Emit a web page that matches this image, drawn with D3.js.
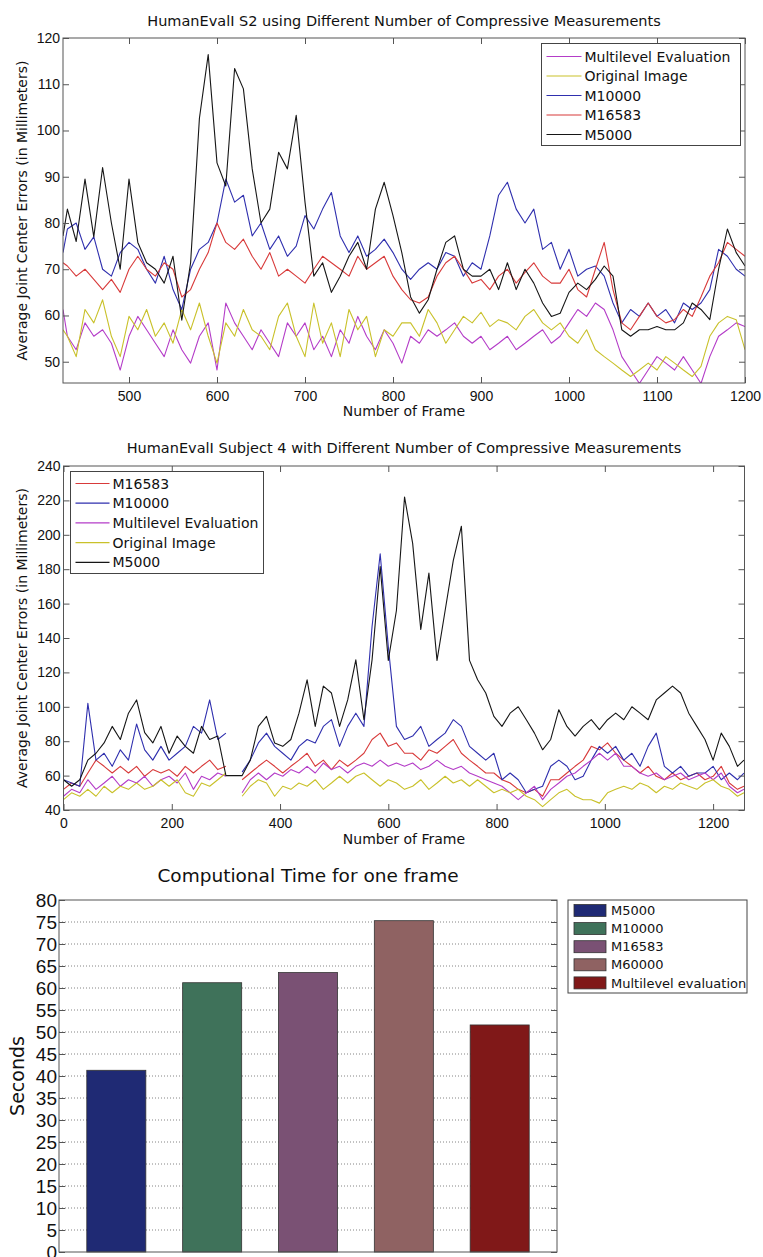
<!DOCTYPE html>
<html>
<head>
<meta charset="utf-8">
<script src="https://cdn.jsdelivr.net/npm/d3@7"></script>
<style>
    body { margin: 0; background: #fff; }
    svg { display: block; font-family: "DejaVu Sans", "Liberation Sans", sans-serif; }
</style>
</head>
<body>
<div id="figure"></div>
<script>
// ---- Panel 1: HumanEvaI S2, sampled every 10 frames ----
const s2Frames = [425].concat(d3.range(430, 1201, 10));
const s2Multilevel = [
    61.3, 55.5, 52.6, 58.4, 55.5, 56.9, 54, 48.2, 55.5, 59.8,
    56.9, 54, 51.1, 56.9, 52.6, 49.7, 55.5, 58.4, 48.2, 62.7,
    58.4, 55.5, 52.6, 56.9, 54, 51.1, 58.4, 55.5, 58.4, 52.6,
    55.5, 51.1, 56.9, 54, 59.8, 55.5, 52.6, 56.9, 54, 49.7,
    55.5, 54, 56.9, 55.5, 56.9, 58.4, 55.5, 54, 55.5, 52.6,
    54, 55.5, 52.6, 54, 55.5, 56.9, 54, 55.5, 58.4, 61.3,
    59.8, 62.7, 61.3, 56.9, 51.1, 48.2, 45.3, 48.2, 51.1, 49.7,
    48.2, 51.1, 48.2, 45.3, 51.1, 55.5, 56.9, 58.4, 57.6
];
const s2Original = [
    56.9, 55.5, 51.1, 61.3, 58.4, 63.4, 55.5, 51.1, 59.8, 56.9,
    61.3, 55.5, 58.4, 54, 61.3, 56.9, 62.7, 55.5, 49.7, 58.4,
    55.5, 61.3, 56.9, 55.5, 52.6, 59.8, 62.7, 55.5, 51.1, 62.7,
    54, 58.4, 51.1, 61.3, 56.9, 59.8, 51.1, 56.9, 55.5, 58.4,
    58.4, 55.5, 61.3, 58.4, 54, 56.9, 59.8, 58.4, 60.7, 57.6,
    59.1, 58.4, 56.9, 59.8, 61.3, 58.4, 56.9, 58.4, 55.5, 54,
    56.9, 52.6, 51.1, 49.7, 48.2, 46.8, 48.2, 49.7, 48.2, 51.1,
    49.7, 48.2, 46.8, 49, 55.5, 58.4, 59.8, 59.1, 52.6
];
const s2M10000 = [
    73.6, 78.7, 80, 74.3, 77, 70, 68.5, 73.6, 75.8, 74.3,
    70, 67, 72.8, 65.6, 61.3, 70, 74.3, 75.8, 80, 89.5,
    84.5, 86, 77.2, 80, 74.3, 77.2, 72.8, 75, 81.6, 78.7,
    83, 86.6, 77.2, 73.6, 77.2, 72.8, 74.3, 76.5, 73.6, 70,
    67.8, 70, 71.4, 70, 73.6, 72.8, 68.5, 71.4, 70, 77.2,
    86, 88.8, 83, 80, 83, 74.3, 75.8, 70, 74.3, 68.5,
    70, 70.7, 68.5, 62.7, 58.4, 61.3, 59.8, 62.7, 59.8, 61.3,
    58.4, 62.7, 61.3, 62.7, 65.6, 74.3, 72.8, 70, 68.5
];
const s2M16583 = [
    71.4, 70.7, 68.5, 70, 67.8, 65.6, 67.8, 65, 70, 72.8,
    70, 68.5, 71.4, 70, 64, 65.6, 70, 73.6, 80, 75.8,
    74.3, 76.5, 72.8, 70, 73.6, 68.5, 70, 68.5, 67, 70,
    72.8, 71.4, 70, 68.5, 72.8, 70, 71.4, 72.8, 68.5, 65.6,
    63.4, 62.7, 64, 68.5, 71.4, 72.8, 70, 67, 67.8, 65.6,
    68.5, 70, 67, 69.3, 71.4, 68.5, 67, 67, 70, 65.6,
    64, 70, 75.8, 65.6, 58.4, 56.9, 59.8, 62.7, 59.8, 58.4,
    59.1, 61.3, 59.8, 64, 68.5, 71.4, 75.8, 74.3, 72.8
];
const s2M5000 = [
    77.2, 83, 76, 89.5, 77, 92, 80, 70, 89.5, 75.8,
    71.4, 70, 67, 72.8, 59, 71.4, 102.6, 116.4, 93, 88,
    113.4, 109, 91.7, 80, 83, 95.3, 91.7, 103.3, 84.5, 68.5,
    71.4, 65, 68.5, 72.8, 75.8, 70, 83, 88.8, 81.6, 73.6,
    64, 60.5, 63.4, 70, 75.8, 77.2, 70, 68.5, 68.5, 70,
    65.6, 71.4, 65.6, 70, 67, 62.7, 59.8, 60.5, 65, 67,
    65.6, 67.8, 70.7, 68.5, 56.9, 55.5, 56.9, 56.9, 57.6, 56.9,
    56.9, 58.4, 62.7, 61.3, 59.1, 70, 78.7, 73.6, 70.7
];
const s2XTicks = [500, 600, 700, 800, 900, 1000, 1100, 1200];
const s2YTicks = [50, 60, 70, 80, 90, 100, 110, 120];

// ---- Panel 2: HumanEvaI Subject 4, sampled every 15 frames (null = no data) ----
const s4Frames = d3.range(0, 1246, 15).concat([1257]);
const s4M16583 = [
    52, 55.7, 53.8, 61.5, 69, 65.4, 61.5, 65.4, 61.5, 65.4,
    59.6, 63.5, 61.5, 63.5, 59.6, 65.4, 61.5, 65.4, 69, 63.5,
    65.4, null, 57.6, 61.5, 65.4, 69, 65.4, 61.5, 65.4, 69,
    73, 65.4, 69, 63.5, 69, 65.4, 69, 73, 81, 84.7,
    77, 79, 73, 73, 69, 75, 73, 77, 81, 73,
    69, 65.4, 61.5, 61.5, 57.6, 55.7, 52, 50, 52, 48,
    57.6, 57.6, 61.5, 65.4, 69, 77, 75, 79, 73, 69,
    65.4, 61.5, 65.4, 59.6, 57.6, 61.5, 57.6, 59.6, 61.5, 57.6,
    59.6, 65.4, 55.7, 52, 53.8
];
const s4M10000 = [
    57.6, 55.7, 53.8, 102, 69, 73, 65.4, 75, 69, 90,
    75, 69, 77, 69, 73, 77, 88.6, 84.7, 104, 81,
    84.7, null, 62, 69, 79, 84.7, 77, 73, 69, 77,
    81, 79, 88.6, 92.5, 77, 88.6, 96.3, 88.6, 146.7, 189,
    135, 88.6, 81, 83, 88.6, 77, 81, 84.7, 92.5, 88.6,
    77, 73, 69, 73, 57.6, 61.5, 57.6, 50, 52, 53.8,
    65.4, 69, 65.4, 57.6, 59.6, 69, 77, 73, 77, 69,
    73, 65.4, 77, 84.7, 65.4, 61.5, 65.4, 59.6, 61.5, 61.5,
    65.4, 57.6, 61.5, 57.6, 61.5
];
const s4Multilevel = [
    48, 52, 50, 57.6, 52, 55.7, 59.6, 53.8, 57.6, 55.7,
    59.6, 53.8, 57.6, 59.6, 55.7, 61.5, 52, 59.6, 57.6, 61.5,
    59.6, null, 50, 57.6, 61.5, 57.6, 61.5, 59.6, 63.5, 61.5,
    65.4, 61.5, 67.3, 63.5, 65.4, 61.5, 65.4, 67.3, 65.4, 69,
    65.4, 67.3, 65.4, 67.3, 63.5, 65.4, 69, 65.4, 63.5, 65.4,
    61.5, 59.6, 57.6, 55.7, 53.8, 50, 46, 50, 53.8, 46,
    52, 55.7, 59.6, 61.5, 65.4, 69, 73, 69, 73, 65.4,
    65.4, 61.5, 59.6, 61.5, 57.6, 59.6, 61.5, 57.6, 59.6, 61.5,
    57.6, 61.5, 53.8, 50, 52
];
const s4Original = [
    46, 50, 48, 52, 48, 53.8, 50, 53.8, 52, 55.7,
    52, 53.8, 57.6, 53.8, 57.6, 50, 48, 55.7, 53.8, 57.6,
    61.5, null, 48, 53.8, 57.6, 55.7, 48, 53.8, 52, 55.7,
    53.8, 57.6, 52, 55.7, 59.6, 55.7, 59.6, 61.5, 57.6, 53.8,
    57.6, 55.7, 52, 53.8, 57.6, 52, 55.7, 59.6, 55.7, 57.6,
    53.8, 57.6, 53.8, 50, 52, 50, 52, 48, 46, 42,
    46, 50, 52, 48, 46, 46, 44, 50, 52, 53.8,
    52, 55.7, 53.8, 50, 53.8, 52, 55.7, 53.8, 52, 55.7,
    57.6, 53.8, 52, 48, 50
];
const s4M5000 = [
    57.6, 53.8, 57.6, 69, 73, 79, 88.6, 81, 96.3, 104,
    85, 79, 88.6, 73, 83, 77, 73, 88.6, 81, 83,
    60, 60, 60, 69, 88.6, 94.4, 79, 77, 81, 96.3,
    115.7, 88.6, 112, 108, 88.6, 104, 127.3, 92.5, 127.3, 181.5,
    127, 156, 222, 195, 145, 177.7, 127, 156, 185, 205,
    127, 115.7, 108, 94.4, 88.6, 96.3, 100, 92.5, 84.7, 75,
    81, 98.3, 88.6, 83, 88.6, 92.5, 86.7, 92.5, 96.3, 92.5,
    100, 96.3, 92.5, 104, 108, 112, 108, 96.3, 88.6, 81,
    69, 84.7, 77, 65.4, 69
];
const s4XTicks = [0, 200, 400, 600, 800, 1000, 1200];
const s4YTicks = [40, 60, 80, 100, 120, 140, 160, 180, 200, 220, 240];

// ---- Panel 3: computational time per frame ----
const barCategories = ["M5000", "M10000", "M16583", "M60000", "Multilevel evaluation"];
const barSeconds = [41.3, 61.2, 63.5, 75.3, 51.6];
const barYTicks = [0, 5, 10, 15, 20, 25, 30, 35, 40, 45, 50, 55, 60, 65, 70, 75, 80];
const barColors = ["#1f2a74", "#3f725a", "#7a5174", "#8f6262", "#801818"];

const lineColors = {
    multilevel: "#b43cc8",
    original: "#c9c12a",
    m10000: "#2f2fae",
    m16583: "#d83a3a",
    m5000: "#161616"
};

/**
 * Creates the svg that holds the three panels.
 * @returns {Object} d3 selection of the svg.
 */
function initializeSVG() {
    return d3.select("#figure")
        .append("svg")
        .attr("width", 763)
        .attr("height", 1257);
}

/**
 * Draws the box, the inward ticks on all four sides and the tick labels.
 */
function drawBoxAxes(svg, x, y, box, xTicks, yTicks, font) {
    const axisColor = "#555";
    const plain = d3.format("d");
    if (xTicks) {
        svg.append("g")
            .attr("transform", `translate(0,${box.bottom})`)
            .call(d3.axisBottom(x).tickValues(xTicks).tickFormat(plain)
                .tickSizeInner(-6).tickSizeOuter(0).tickPadding(font.xPad))
            .call(g => g.select(".domain").remove());
        svg.append("g")
            .attr("transform", `translate(0,${box.top})`)
            .call(d3.axisTop(x).tickValues(xTicks).tickSizeInner(-6).tickSizeOuter(0).tickFormat(""))
            .call(g => g.select(".domain").remove());
    }
    svg.append("g")
        .attr("transform", `translate(${box.left},0)`)
        .call(d3.axisLeft(y).tickValues(yTicks).tickFormat(plain)
            .tickSizeInner(-6).tickSizeOuter(0).tickPadding(font.yPad))
        .call(g => g.select(".domain").remove());
    svg.append("g")
        .attr("transform", `translate(${box.right},0)`)
        .call(d3.axisRight(y).tickValues(yTicks).tickSizeInner(-6).tickSizeOuter(0).tickFormat(""))
        .call(g => g.select(".domain").remove());
    svg.selectAll(".tick line").attr("stroke", axisColor);
    svg.selectAll(".tick text")
        .attr("font-family", null)
        .attr("font-size", font.size)
        .attr("fill", "#111");
    svg.append("rect")
        .attr("x", box.left)
        .attr("y", box.top)
        .attr("width", box.right - box.left)
        .attr("height", box.bottom - box.top)
        .attr("fill", "none")
        .attr("stroke", axisColor)
        .attr("stroke-width", 1);
}

/**
 * Draws a line panel: series, axes, labels and legend.
 * @param {Object} svg - root svg.
 * @param {Object} panel - layout and data of the panel.
 */
function drawLinePanel(svg, panel) {
    const g = svg.append("g");
    const box = panel.box;
    const x = d3.scaleLinear().domain(panel.xDomain).range([box.left, box.right]);
    const y = d3.scaleLinear().domain(panel.yDomain).range([box.bottom, box.top]);

    g.append("clipPath")
        .attr("id", panel.id)
        .append("rect")
        .attr("x", box.left)
        .attr("y", box.top)
        .attr("width", box.right - box.left)
        .attr("height", box.bottom - box.top);

    const line = d3.line()
        .defined(d => d[1] != null)
        .x(d => x(d[0]))
        .y(d => y(d[1]));

    panel.series.forEach(s => {
        g.append("path")
            .datum(panel.frames.map((f, i) => [f, s.values[i]]))
            .attr("clip-path", `url(#${panel.id})`)
            .attr("fill", "none")
            .attr("stroke", s.color)
            .attr("stroke-width", 1.1)
            .attr("stroke-linejoin", "round")
            .attr("d", line);
    });

    drawBoxAxes(g, x, y, box, panel.xTicks, panel.yTicks, { size: 14, xPad: 8, yPad: 3 });

    g.append("text")
        .attr("x", (box.left + box.right) / 2)
        .attr("y", panel.titleY)
        .attr("text-anchor", "middle")
        .attr("font-size", 14.5)
        .attr("fill", "#111")
        .text(panel.title);
    g.append("text")
        .attr("x", (box.left + box.right) / 2)
        .attr("y", panel.xLabelY)
        .attr("text-anchor", "middle")
        .attr("font-size", 14)
        .attr("fill", "#111")
        .text("Number of Frame");
    g.append("text")
        .attr("transform", `translate(27,${(box.top + box.bottom) / 2}) rotate(-90)`)
        .attr("text-anchor", "middle")
        .attr("font-size", 14)
        .attr("fill", "#111")
        .text("Average Joint Center Errors (in Millimeters)");

    const lg = panel.legend;
    const legend = g.append("g")
        .attr("transform", `translate(${lg.x},${lg.y})`);
    legend.append("rect")
        .attr("width", lg.w)
        .attr("height", lg.h)
        .attr("fill", "#fff")
        .attr("stroke", "#444");
    const rows = legend.selectAll("g.row")
        .data(panel.series)
        .enter().append("g")
        .attr("transform", (d, i) => `translate(0,${lg.first + i * lg.step})`);
    rows.append("line")
        .attr("x1", lg.lineX[0])
        .attr("x2", lg.lineX[1])
        .attr("stroke", d => d.color)
        .attr("stroke-width", 1.2);
    rows.append("text")
        .attr("x", lg.textX)
        .attr("dy", "0.36em")
        .attr("font-size", 14)
        .attr("fill", "#111")
        .text(d => d.name);
}

/**
 * Draws the bar panel with dotted grid and legend.
 */
function drawBarPanel(svg) {
    const g = svg.append("g");
    const box = { left: 59, right: 557, top: 900, bottom: 1252 };
    const x = d3.scaleBand()
        .domain(barCategories)
        .range([box.left, box.right])
        .paddingInner(0.384)
        .paddingOuter(0.29);
    const y = d3.scaleLinear().domain([0, 80]).range([box.bottom, box.top]);

    g.append("g")
        .selectAll("line")
        .data(barYTicks.filter(t => t > 0 && t < 80))
        .enter().append("line")
        .attr("x1", box.left)
        .attr("x2", box.right)
        .attr("y1", d => y(d))
        .attr("y2", d => y(d))
        .attr("stroke", "#666")
        .attr("stroke-width", 0.8)
        .attr("stroke-dasharray", "1,2");

    g.append("g")
        .selectAll("rect")
        .data(barCategories)
        .enter().append("rect")
        .attr("x", d => x(d))
        .attr("width", x.bandwidth())
        .attr("y", (d, i) => y(barSeconds[i]))
        .attr("height", (d, i) => y(0) - y(barSeconds[i]))
        .attr("fill", (d, i) => barColors[i])
        .attr("stroke", "#333")
        .attr("stroke-width", 0.8);

    drawBoxAxes(g, null, y, box, null, barYTicks, { size: 19, xPad: 4, yPad: 2 });

    g.append("text")
        .attr("x", (box.left + box.right) / 2)
        .attr("y", 882)
        .attr("text-anchor", "middle")
        .attr("font-size", 18.5)
        .attr("fill", "#111")
        .text("Computional Time for one frame");
    g.append("text")
        .attr("transform", `translate(24,${(box.top + box.bottom) / 2}) rotate(-90)`)
        .attr("text-anchor", "middle")
        .attr("font-size", 19)
        .attr("fill", "#111")
        .text("Seconds");

    const legend = g.append("g").attr("transform", "translate(568,900)");
    legend.append("rect")
        .attr("width", 179)
        .attr("height", 93)
        .attr("fill", "#fff")
        .attr("stroke", "#444");
    const rows = legend.selectAll("g.row")
        .data(barCategories)
        .enter().append("g")
        .attr("transform", (d, i) => `translate(0,${10.5 + i * 18.1})`);
    rows.append("rect")
        .attr("x", 6)
        .attr("y", -6)
        .attr("width", 32)
        .attr("height", 12)
        .attr("fill", (d, i) => barColors[i])
        .attr("stroke", "#333")
        .attr("stroke-width", 0.8);
    rows.append("text")
        .attr("x", 43)
        .attr("dy", "0.36em")
        .attr("font-size", 13)
        .attr("fill", "#111")
        .text(d => d);
}

function addFigure() {
    const svg = initializeSVG();
    drawLinePanel(svg, {
        id: "clip-s2",
        title: "HumanEvalI S2 using Different Number of Compressive Measurements",
        titleY: 26,
        xLabelY: 416,
        box: { left: 63, right: 745, top: 38, bottom: 383 },
        xDomain: [425, 1200],
        yDomain: [45.4, 120],
        xTicks: s2XTicks,
        yTicks: s2YTicks,
        frames: s2Frames,
        series: [
            { name: "Multilevel Evaluation", color: lineColors.multilevel, values: s2Multilevel },
            { name: "Original Image", color: lineColors.original, values: s2Original },
            { name: "M10000", color: lineColors.m10000, values: s2M10000 },
            { name: "M16583", color: lineColors.m16583, values: s2M16583 },
            { name: "M5000", color: lineColors.m5000, values: s2M5000 }
        ],
        legend: { x: 541.5, y: 43.5, w: 199, h: 102, first: 13, step: 19.5, lineX: [5, 40], textX: 43 }
    });
    drawLinePanel(svg, {
        id: "clip-s4",
        title: "HumanEvalI Subject 4 with Different Number of Compressive Measurements",
        titleY: 453,
        xLabelY: 844,
        box: { left: 63.5, right: 744.5, top: 466, bottom: 810 },
        xDomain: [0, 1258],
        yDomain: [40, 240],
        xTicks: s4XTicks,
        yTicks: s4YTicks,
        frames: s4Frames,
        series: [
            { name: "M16583", color: lineColors.m16583, values: s4M16583 },
            { name: "M10000", color: lineColors.m10000, values: s4M10000 },
            { name: "Multilevel Evaluation", color: lineColors.multilevel, values: s4Multilevel },
            { name: "Original Image", color: lineColors.original, values: s4Original },
            { name: "M5000", color: lineColors.m5000, values: s4M5000 }
        ],
        legend: { x: 70.5, y: 471.5, w: 193, h: 102, first: 12, step: 19.7, lineX: [5, 39], textX: 42 }
    });
    drawBarPanel(svg);
}

addFigure();
</script>
</body>
</html>
